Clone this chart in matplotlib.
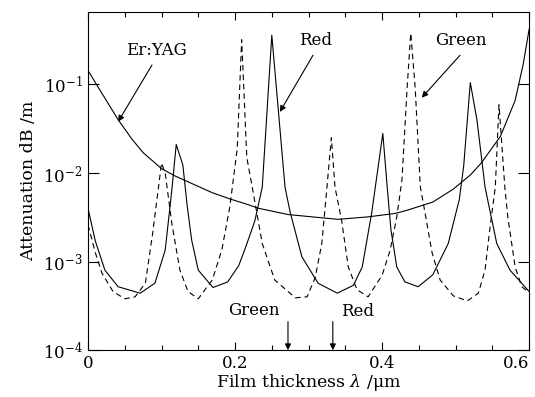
import matplotlib

matplotlib.use("Agg")
import matplotlib.pyplot as plt  # noqa: E402
from matplotlib.ticker import FixedLocator, MultipleLocator, NullLocator  # noqa: E402

# film thickness (um) / attenuation (dB/m)
red_x = [0.000, 0.010, 0.023, 0.041, 0.071, 0.091, 0.105, 0.114, 0.120, 0.129,
         0.135, 0.141, 0.150, 0.170, 0.190, 0.205, 0.215, 0.227, 0.237, 0.250,
         0.268, 0.275, 0.291, 0.313, 0.339, 0.361, 0.373, 0.386, 0.401, 0.407,
         0.412, 0.420, 0.431, 0.449, 0.469, 0.490, 0.505, 0.511, 0.520, 0.529,
         0.540, 0.546, 0.556, 0.574, 0.600]
red_y = [4.0e-3, 1.7e-3, 8.0e-4, 5.2e-4, 4.4e-4, 5.7e-4, 1.35e-3, 6.4e-3, 2.1e-2, 1.23e-2,
         4.2e-3, 1.75e-3, 8.0e-4, 5.1e-4, 5.9e-4, 9.0e-4, 1.5e-3, 2.9e-3, 6.9e-3, 3.6e-1,
         6.9e-3, 3.6e-3, 1.13e-3, 5.7e-4, 4.4e-4, 5.4e-4, 8.7e-4, 3.6e-3, 2.8e-2, 6.9e-3,
         2.3e-3, 8.7e-4, 5.9e-4, 5.2e-4, 7.1e-4, 1.6e-3, 5.0e-3, 1.2e-2, 1.05e-1, 4.0e-2,
         7.0e-3, 4.0e-3, 1.6e-3, 8.0e-4, 4.6e-4]

green_x = [0.000, 0.010, 0.019, 0.034, 0.050, 0.064, 0.078, 0.088, 0.100, 0.105,
           0.114, 0.125, 0.136, 0.150, 0.169, 0.182, 0.193, 0.203, 0.209, 0.216,
           0.224, 0.237, 0.254, 0.282, 0.298, 0.309, 0.318, 0.325, 0.331, 0.336,
           0.345, 0.354, 0.366, 0.381, 0.400, 0.411, 0.420, 0.427, 0.434, 0.439,
           0.445, 0.452, 0.456, 0.468, 0.479, 0.497, 0.516, 0.531, 0.540, 0.547,
           0.554, 0.559, 0.567, 0.571, 0.581, 0.590, 0.600]
green_y = [2.6e-3, 1.26e-3, 7.4e-4, 4.6e-4, 3.8e-4, 4.0e-4, 5.7e-4, 2.1e-3, 1.3e-2, 1.0e-2,
           2.7e-3, 8.0e-4, 4.6e-4, 3.8e-4, 6.2e-4, 1.35e-3, 4.2e-3, 1.9e-2, 3.2e-1, 1.5e-2,
           6.5e-3, 1.6e-3, 6.2e-4, 3.9e-4, 4.0e-4, 6.6e-4, 1.6e-3, 6.9e-3, 2.5e-2, 6.9e-3,
           2.9e-3, 8.7e-4, 4.8e-4, 4.0e-4, 7.0e-4, 1.35e-3, 3.2e-3, 8.3e-3, 9.0e-2, 3.8e-1,
           9.3e-2, 7.0e-3, 4.6e-3, 1.26e-3, 6.2e-4, 4.1e-4, 3.6e-4, 4.4e-4, 8.0e-4, 2.5e-3,
           6.9e-3, 5.9e-2, 6.9e-3, 3.2e-3, 8.7e-4, 5.2e-4, 4.5e-4]

eryag_x = [0.000, 0.016, 0.041, 0.060, 0.075, 0.100, 0.118, 0.134, 0.169, 0.193,
           0.214, 0.232, 0.272, 0.305, 0.340, 0.381, 0.418, 0.434, 0.469, 0.497,
           0.520, 0.535, 0.561, 0.581, 0.592, 0.600]
eryag_y = [0.144, 0.087, 0.040, 0.024, 0.017, 0.0112, 0.0093, 0.0081, 0.0060, 0.0051,
           0.0045, 0.0040, 0.0034, 0.0032, 0.0030, 0.0032, 0.0035, 0.0038, 0.0047, 0.0066,
           0.0095, 0.0130, 0.026, 0.066, 0.17, 0.42]

# resonance thickness markers on the bottom axis
marker_names = ["Green", "Red"]
marker_x = [0.272, 0.333]

x_ticks = [0, 0.2, 0.4, 0.6]
x_tick_labels = ["0", "0.2", "0.4", "0.6"]

plt.rcParams["font.family"] = ["DejaVu Serif"]
plt.rcParams["mathtext.fontset"] = "dejavuserif"
plt.rcParams["font.size"] = 12

fig = plt.figure(figsize=(5.35, 3.97), dpi=100)
ax = fig.add_axes([0.1645, 0.118, 0.8245, 0.852])

lw = 0.8
ax.plot(eryag_x, eryag_y, "-", color="black", linewidth=lw)
ax.plot(red_x, red_y, "-", color="black", linewidth=lw)
ax.plot(green_x, green_y, "--", color="black", linewidth=lw, dashes=(5, 3.5))

ax.set_yscale("log")
ax.set_xticks(x_ticks, x_tick_labels)
ax.xaxis.set_minor_locator(MultipleLocator(0.05))
ax.yaxis.set_major_locator(FixedLocator([1e-4, 1e-3, 1e-2, 1e-1]))
ax.yaxis.set_minor_locator(NullLocator())

ax.tick_params(which="both", direction="in", top=True, right=True, width=0.8, labelsize=12)
ax.tick_params(axis="x", which="major", length=6)
ax.tick_params(axis="x", which="minor", length=3.5)
ax.tick_params(axis="y", which="major", length=8, pad=4)
for s in ax.spines.values():
    s.set_linewidth(0.8)

# keep the last x tick label inside the figure
ax.xaxis.get_major_ticks()[-1].label1.set_horizontalalignment("right")

ax.set_xlabel(r"Film thickness $\lambda$ /μm", fontsize=12.5, labelpad=0)
ax.set_ylabel("Attenuation dB /m", fontsize=12.5, labelpad=4)

arrow = dict(arrowstyle="-|>", color="black", lw=0.8, mutation_scale=9, shrinkA=0, shrinkB=0)

ax.text(0.0925, 0.245, "Er:YAG", ha="center", va="center", fontsize=12)
ax.annotate("", xy=(0.041, 0.038), xytext=(0.087, 0.166), arrowprops=arrow)

ax.text(0.310, 0.31, "Red", ha="center", va="center", fontsize=12)
ax.annotate("", xy=(0.261, 0.049), xytext=(0.306, 0.214), arrowprops=arrow)

ax.text(0.507, 0.31, "Green", ha="center", va="center", fontsize=12)
ax.annotate("", xy=(0.454, 0.071), xytext=(0.506, 0.214), arrowprops=arrow)

label_pos = [(0.226, 2.8e-4), (0.367, 2.7e-4)]
for name, mx, (tx, ty) in zip(marker_names, marker_x, label_pos):
    ax.text(tx, ty, name, ha="center", va="center", fontsize=12)
    ax.annotate("", xy=(mx, 1e-4), xytext=(mx, 2.1e-4), arrowprops=arrow)

ax.set_xlim(0, 0.6)
ax.set_ylim(1e-4, 0.66)

fig.savefig("out.png", dpi=100)
